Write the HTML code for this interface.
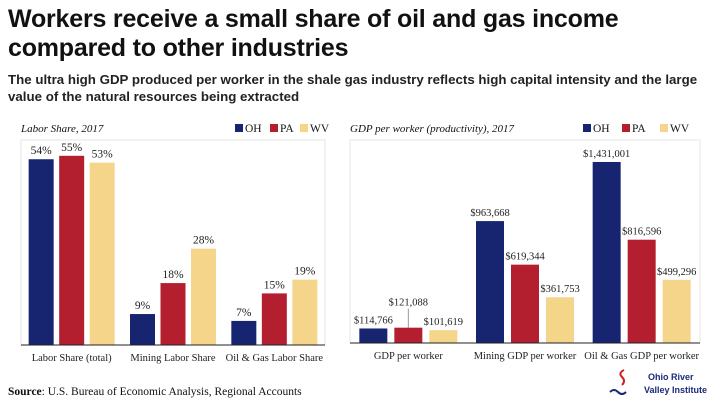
<!DOCTYPE html>
<html><head><meta charset="utf-8"><style>
body{margin:0;width:720px;height:405px;background:#fff;overflow:hidden;font-family:"Liberation Sans",sans-serif;position:relative}
#title{position:absolute;left:8px;top:5px;font-size:25px;font-weight:bold;line-height:29px;color:#111;letter-spacing:-0.2px}
#sub{position:absolute;left:8px;top:71px;font-size:13.3px;line-height:17px;color:#222;font-weight:bold}
#src{position:absolute;left:8px;top:386px;font-size:11.5px;font-family:"Liberation Serif",serif;color:#111}
svg{position:absolute;left:0;top:0}
</style></head><body>
<div id="title">Workers receive a small share of oil and gas income<br>compared to other industries</div>
<div id="sub">The ultra high GDP produced per worker in the shale gas industry reflects high capital intensity and the large<br>value of the natural resources being extracted</div>
<div id="src"><b>Source</b>: U.S. Bureau of Economic Analysis, Regional Accounts</div>
<svg id="svg" width="720" height="405" font-family="Liberation Serif, serif">
<g>
<path d="M622 385 q4 -4 0 -8 q-4 -4 2 -7" stroke="#c22" stroke-width="2" fill="none"/>
<path d="M610 392 q4 -4 8 0 q4 4 8 0" stroke="#1a2a7a" stroke-width="2" fill="none"/>
<text x="648" y="380" font-family="Liberation Sans, sans-serif" font-size="9" font-weight="bold" fill="#1a2a7a">Ohio River</text>
<text x="644" y="393" font-family="Liberation Sans, sans-serif" font-size="9" font-weight="bold" fill="#1a2a7a">Valley Institute</text>
</g>
</svg>
<script>
const laborCats=["Labor Share (total)","Mining Labor Share","Oil & Gas Labor Share"];
const laborOH=[54,9,7];
const laborPA=[55,18,15];
const laborWV=[53,28,19];
const gdpCats=["GDP per worker","Mining GDP per worker","Oil & Gas GDP per worker"];
const gdpOH=[114766,963668,1431001];
const gdpPA=[121088,619344,816596];
const gdpWV=[101619,361753,499296];
const colors=["#172470","#b31f2e","#f5d58a"];
const names=["OH","PA","WV"];
const NS="http://www.w3.org/2000/svg";
const svg=document.getElementById('svg');
function mk(t,a,p){const e=document.createElementNS(NS,t);for(const k in a)e.setAttribute(k,a[k]);(p||svg).appendChild(e);return e;}
function chart(o){
  const g=mk('g',{});
  
  
  const fr=mk('rect',{x:o.x0,y:o.top,width:o.x1-o.x0,height:o.base-o.top,fill:'none',stroke:'#e4e4e4'},g);
  
  
  const t=mk('text',{x:o.x0,y:o.top-8,'font-size':11,'font-style':'italic',fill:'#111'},g);t.textContent=o.title;
  
  
  names.forEach((n,i)=>{
    const lx=o.legX[i];
    const r=mk('rect',{x:lx,y:o.top-16,width:8,height:8,fill:colors[i]},g);
    
    
    const lt=mk('text',{x:lx+10,y:o.top-8,'font-size':11.5,fill:'#111'},g);lt.textContent=n;
    
    
  });
  const gw=(o.x1-o.x0)/3;
  const y=v=>o.base-v*o.scale;
  o.series.forEach((s,si)=>{
    s.forEach((v,ci)=>{
      const cx=o.x0+gw*ci+gw/2+(si-1)*o.step;
      const b=mk('rect',{x:cx-o.bw/2,y:y(v),width:o.bw,height:o.base-y(v),fill:colors[si]},g);
      
      
      let ly=y(v)-5;
      if(o.lift&&o.lift[si]&&o.lift[si][ci]){ly-=o.lift[si][ci];mk('line',{x1:cx,x2:cx,y1:y(v),y2:ly+3,stroke:'#999'},g);}
      const lt=mk('text',{x:cx,y:ly,'font-size':o.fs,'text-anchor':'middle',fill:'#222'},g);lt.textContent=o.fmt(v);
      
      
    });
  });
  mk('line',{x1:o.x0,x2:o.x1,y1:o.base,y2:o.base,stroke:'#222','stroke-width':1},g);
  o.cats.forEach((c,ci)=>{
    const ct=mk('text',{x:o.x0+gw*ci+gw/2,y:o.base+16,'font-size':10.5,'text-anchor':'middle',fill:'#222'},g);ct.textContent=c;
    
    
  });
}
chart({name:'labor-share-chart',title:'Labor Share, 2017',x0:21,x1:325,top:140,base:345,scale:3.44,bw:25,step:30.5,fs:11.5,
 legX:[235,270,300],cats:laborCats,series:[laborOH,laborPA,laborWV],fmt:v=>v+'%'});
chart({name:'gdp-per-worker-chart',title:'GDP per worker (productivity), 2017',x0:350,x1:700,top:140,base:343,scale:126.5/1e6,bw:28,step:35,fs:10.5,
 legX:[583,622,660],cats:gdpCats,series:[gdpOH,gdpPA,gdpWV],fmt:v=>'$'+v.toLocaleString('en-US'),lift:[null,[17,0,0],null]});
</script>
</body></html>
